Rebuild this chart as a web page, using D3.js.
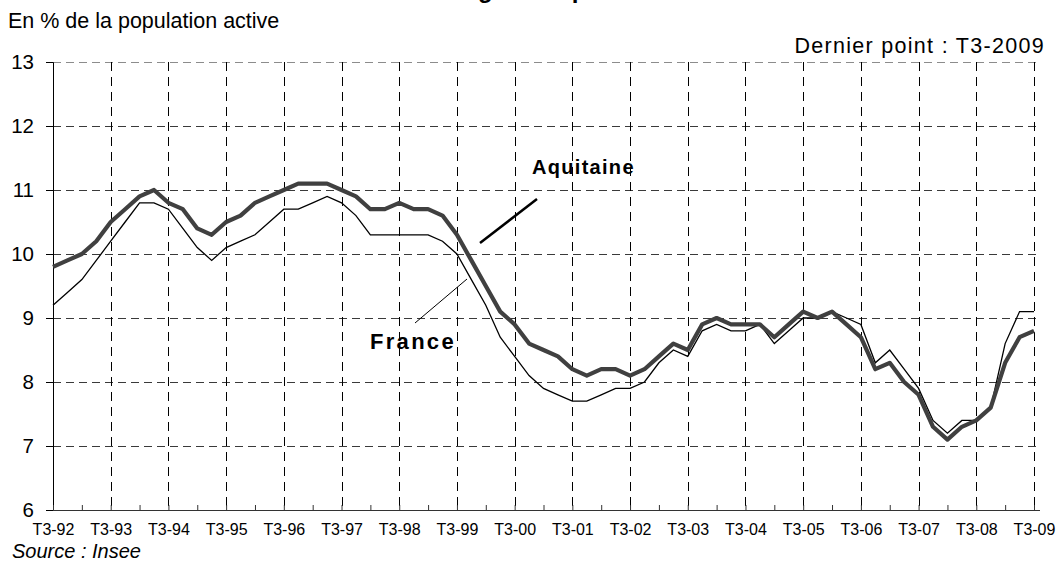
<!DOCTYPE html>
<html>
<head>
<meta charset="utf-8">
<script src="https://cdn.jsdelivr.net/npm/d3@7"></script>
<style>
  html, body { margin: 0; padding: 0; background: #fff; }
  svg { display: block; font-family: "Liberation Sans", Arial, sans-serif; }
</style>
</head>
<body>
<svg id="chart" width="1062" height="561"></svg>
<script>
// ---- Data ----
const years = ["92","93","94","95","96","97","98","99","00","01","02","03","04","05","06","07","08","09"];
const xTickLabels = years.map(y => "T3-" + y);
const yTicks = [6, 7, 8, 9, 10, 11, 12, 13];

const aquitaine = [9.8, 9.9, 10.0, 10.2, 10.5, 10.7, 10.9, 11.0, 10.8, 10.7, 10.4, 10.3,
  10.5, 10.6, 10.8, 10.9, 11.0, 11.1, 11.1, 11.1, 11.0, 10.9, 10.7, 10.7,
  10.8, 10.7, 10.7, 10.6, 10.3, 9.9, 9.5, 9.1, 8.9, 8.6, 8.5, 8.4,
  8.2, 8.1, 8.2, 8.2, 8.1, 8.2, 8.4, 8.6, 8.5, 8.9, 9.0, 8.9,
  8.9, 8.9, 8.7, 8.9, 9.1, 9.0, 9.1, 8.9, 8.7, 8.2, 8.3, 8.0,
  7.8, 7.3, 7.1, 7.3, 7.4, 7.6, 8.3, 8.7, 8.8];

const france = [9.2, 9.4, 9.6, 9.9, 10.2, 10.5, 10.8, 10.8, 10.7, 10.4, 10.1, 9.9,
  10.1, 10.2, 10.3, 10.5, 10.7, 10.7, 10.8, 10.9, 10.8, 10.6, 10.3, 10.3,
  10.3, 10.3, 10.3, 10.2, 10.0, 9.6, 9.2, 8.7, 8.4, 8.1, 7.9, 7.8,
  7.7, 7.7, 7.8, 7.9, 7.9, 8.0, 8.3, 8.5, 8.4, 8.8, 8.9, 8.8,
  8.8, 8.9, 8.6, 8.8, 9.0, 9.0, 9.1, 9.0, 8.9, 8.3, 8.5, 8.2,
  7.9, 7.4, 7.2, 7.4, 7.4, 7.6, 8.6, 9.1, 9.1];

const title = "Taux de chômage en Aquitaine et en France";
const unitLabel = "En % de la population active";
const lastPoint = "Dernier point : T3-2009";
const source = "Source : Insee";
const seriesLabels = ["Aquitaine", "France"];

// ---- Layout ----
const svg = d3.select("#chart");
const mLeft = 53, mRight = 1034, axisEnd = 1040, mTop = 62, mBottom = 510;
const nQ = aquitaine.length;

const x = d3.scaleLinear().domain([0, nQ - 1]).range([mLeft, mRight]);
const y = d3.scaleLinear().domain([6, 13]).range([mBottom, mTop]);

const yearIdx = d3.range(0, nQ, 4);
const halfIdx = d3.range(0, nQ, 2);

// Horizontal gridlines
svg.append("g").selectAll("line")
  .data(yTicks.filter(v => v > 6))
  .join("line")
  .attr("x1", mLeft).attr("x2", axisEnd)
  .attr("y1", d => Math.round(y(d)) + 0.5).attr("y2", d => Math.round(y(d)) + 0.5)
  .attr("stroke", d => d === 13 ? "#8c8c8c" : "#3a3a3a")
  .attr("stroke-width", 1)
  .attr("stroke-dasharray", "8,5");

// Vertical gridlines (at each T3)
svg.append("g").selectAll("line")
  .data(yearIdx.slice(1))
  .join("line")
  .attr("x1", d => Math.round(x(d)) + 0.5).attr("x2", d => Math.round(x(d)) + 0.5)
  .attr("y1", mTop).attr("y2", mBottom)
  .attr("stroke", "#000")
  .attr("stroke-width", 1)
  .attr("stroke-dasharray", "9,6");

// Y axis
const yAxis = d3.axisLeft(y).tickValues(yTicks).tickSize(7).tickPadding(12).tickFormat(d3.format("d"));
const gy = svg.append("g").attr("transform", `translate(${mLeft},0)`).call(yAxis);
gy.select(".domain").attr("stroke", "#000");
gy.selectAll(".tick line").attr("stroke", "#000");
gy.selectAll(".tick text").attr("font-size", 20.5).attr("fill", "#000")
  .attr("font-family", "Liberation Sans, Arial, sans-serif");

// X axis (ticks inward every half year, labels at T3)
const xAxis = d3.axisBottom(x).tickValues(halfIdx).tickSize(-5).tickSizeOuter(0)
  .tickFormat(d => d % 4 === 0 ? xTickLabels[d / 4] : "");
const gx = svg.append("g").attr("transform", `translate(0,${mBottom})`).call(xAxis);
gx.select(".domain").attr("d", `M${mLeft},0.5H${axisEnd}`).attr("stroke", "#333");
gx.selectAll(".tick line").attr("stroke", "#333");
gx.selectAll(".tick text").attr("font-size", 16).attr("fill", "#000")
  .attr("y", 14).attr("dy", "0.71em")
  .attr("font-family", "Liberation Sans, Arial, sans-serif");

// Lines
const line = d3.line().x((d, i) => x(i)).y(d => y(d));
svg.append("path").datum(france)
  .attr("d", line).attr("fill", "none")
  .attr("stroke", "#000").attr("stroke-width", 1.3).attr("stroke-linejoin", "miter");
svg.append("path").datum(aquitaine)
  .attr("d", line).attr("fill", "none")
  .attr("stroke", "#404040").attr("stroke-width", 4.2).attr("stroke-linejoin", "round");

// Series labels with leader lines
svg.append("line").attr("x1", 480).attr("y1", 243).attr("x2", 537).attr("y2", 199)
  .attr("stroke", "#000").attr("stroke-width", 2.5);
svg.append("text").attr("x", 532).attr("y", 174).text(seriesLabels[0])
  .attr("font-size", 20).attr("font-weight", "bold").attr("letter-spacing", 1.3);

svg.append("line").attr("x1", 415).attr("y1", 323).attr("x2", 467).attr("y2", 279)
  .attr("stroke", "#000").attr("stroke-width", 1);
svg.append("text").attr("x", 370).attr("y", 349).text(seriesLabels[1])
  .attr("font-size", 22).attr("font-weight", "bold").attr("letter-spacing", 2.3);

// Texts
svg.append("text").attr("x", 305).attr("y", -2).text(title)
  .attr("font-size", 24).attr("font-weight", "bold");
svg.append("text").attr("x", 8).attr("y", 28).text(unitLabel).attr("font-size", 21.5);
svg.append("text").attr("x", 1045).attr("y", 53).attr("text-anchor", "end").text(lastPoint)
  .attr("font-size", 21.5).attr("letter-spacing", 1.3);
svg.append("text").attr("x", 12).attr("y", 558).text(source).attr("font-size", 20).attr("font-style", "italic");
</script>
</body>
</html>
